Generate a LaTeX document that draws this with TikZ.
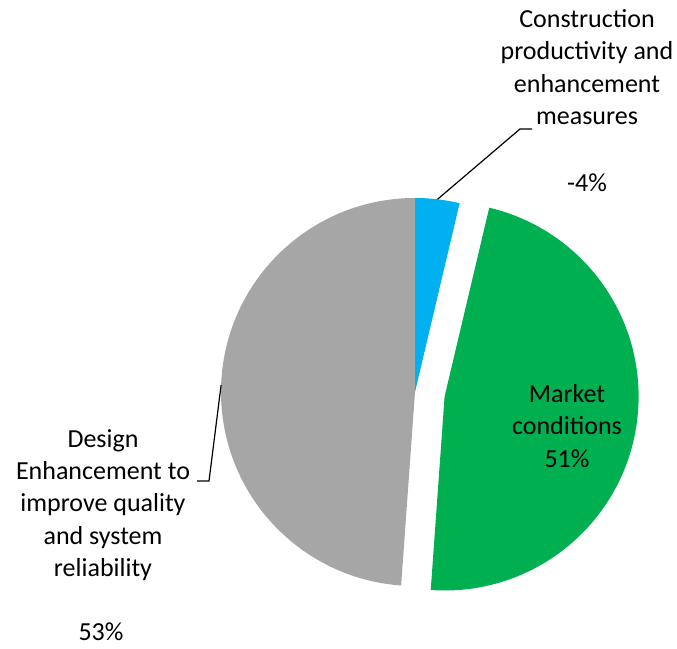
\documentclass[tikz,border=0pt]{standalone}
\usepackage{fontspec}
\setmainfont{Carlito}
\definecolor{pieblue}{RGB}{0,176,240}
\definecolor{piegreen}{RGB}{0,176,80}
\definecolor{piegray}{RGB}{166,166,166}
\begin{document}
\begin{tikzpicture}[x=1pt,y=1pt,
  lbl/.style={align=center,inner sep=0pt,font=\fontsize{26}{32.3}\selectfont},
  leader/.style={draw=black,line width=1.2pt}]
\useasboundingbox (0,0) rectangle (677,648);
% slices
\fill[piegray] (415,256) -- ++(90:194) arc[start angle=90,end angle=265.9,radius=194] -- cycle;
\fill[pieblue] (415,256) -- ++(76.7:194) arc[start angle=76.7,end angle=90,radius=194] -- cycle;
\fill[piegreen] (444.6,251.5) -- ++(-94.1:194) arc[start angle=-94.1,end angle=76.7,radius=194] -- cycle;
% labels
\node[lbl] (cons) at (587,581) {Construction\\productivity and\\enhancement\\measures};
\node[lbl] (consv) at (587,465) {-4\%};
\node[lbl] (mkt) at (567,222) {Market\\conditions\\51\%};
\node[lbl] (des) at (103,143) {Design\\Enhancement to\\improve quality\\and system\\reliability};
\node[lbl] (desv) at (101,16) {53\%};
% leaders
\coordinate (b0) at (437.5,448.7);
\coordinate (b1) at (520,519);
\coordinate (b2) at (532,519);
\draw[leader] (b0) -- (b1) -- (b2);
\coordinate (g0) at (221.1,262.9);
\coordinate (g1) at (209,167);
\coordinate (g2) at (197,167);
\draw[leader] (g0) -- (g1) -- (g2);
\end{tikzpicture}
\end{document}
